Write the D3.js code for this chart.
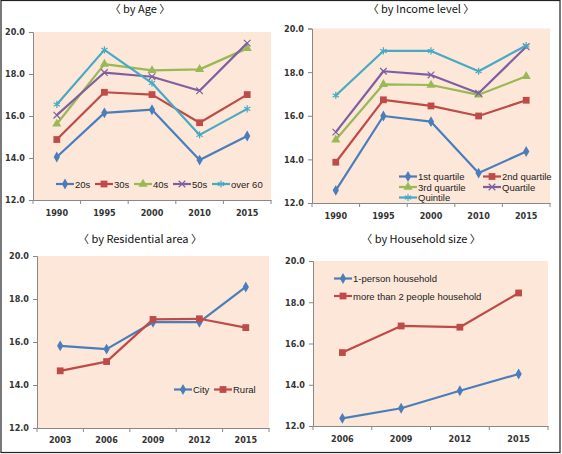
<!DOCTYPE html>
<html><head><meta charset="utf-8">
<script src="https://cdn.jsdelivr.net/npm/d3@7"></script>
<style>body{margin:0;background:#fff}svg{display:block}</style>
</head><body>
<script>
// ---- data ----
const yTicks = [12, 14, 16, 18, 20];

const ageYears = ["1990", "1995", "2000", "2010", "2015"];
const age20s   = [14.05, 16.15, 16.3, 13.9, 15.05];
const age30s   = [14.88, 17.13, 17.02, 15.68, 17.02];
const age40s   = [15.62, 18.47, 18.17, 18.22, 19.22];
const age50s   = [16.04, 18.07, 17.87, 17.2, 19.47];
const ageOver60 = [16.55, 19.15, 17.57, 15.1, 16.34];

const incYears = ["1990", "1995", "2000", "2010", "2015"];
const inc1st = [12.58, 15.99, 15.73, 13.37, 14.36];
const inc2nd = [13.87, 16.73, 16.45, 15.99, 16.71];
const inc3rd = [14.9, 17.44, 17.41, 16.96, 17.81];
const incQuartile = [15.25, 18.04, 17.87, 17.03, 19.16];
const incQuintile = [16.93, 18.97, 18.97, 18.04, 19.22];

const resYears = ["2003", "2006", "2009", "2012", "2015"];
const resCity  = [15.82, 15.67, 16.92, 16.92, 18.56];
const resRural = [14.66, 15.09, 17.05, 17.08, 16.67];

const hhYears = ["2006", "2009", "2012", "2015"];
const hh1     = [12.37, 12.86, 13.71, 14.52];
const hh2plus = [15.56, 16.85, 16.79, 18.45];

const COL = {blue:"#4A7EBB", red:"#BE4B48", green:"#98B954", purple:"#7D60A0", cyan:"#46AAC5"};
const MK = {diamond:d3.symbolDiamond, square:d3.symbolSquare, triangle:d3.symbolTriangle, x:d3.symbolX, asterisk:d3.symbolAsterisk};
const LEGF = "'Liberation Sans',Arial,sans-serif";
const AXISF = "'DejaVu Sans Condensed','DejaVu Sans',sans-serif";
const TITLEF = "'Noto Sans CJK KR','DejaVu Sans',sans-serif";

const panels = [
  {title:"〈 by Age 〉", tx:140, ty:13, x0:33, x1:271, yT:32, yB:200, labY:216, cats:ageYears,
   series:[
    {name:"20s", v:age20s, c:COL.blue, m:"diamond"},
    {name:"30s", v:age30s, c:COL.red, m:"square"},
    {name:"40s", v:age40s, c:COL.green, m:"triangle"},
    {name:"50s", v:age50s, c:COL.purple, m:"x"},
    {name:"over 60", v:ageOver60, c:COL.cyan, m:"asterisk"}],
   legend:[[56,184],[95,184],[134,184],[173,184],[212,184]]},
  {title:"〈 by Income level 〉", tx:421, ty:13, x0:312, x1:550, yT:28.5, yB:203, labY:219, cats:incYears,
   series:[
    {name:"1st quartile", v:inc1st, c:COL.blue, m:"diamond"},
    {name:"2nd quartile", v:inc2nd, c:COL.red, m:"square"},
    {name:"3rd quartile", v:inc3rd, c:COL.green, m:"triangle"},
    {name:"Quartile", v:incQuartile, c:COL.purple, m:"x"},
    {name:"Quintile", v:incQuintile, c:COL.cyan, m:"asterisk"}],
   legend:[[399,176.5],[483,176.5],[399,187],[483,187],[399,197.5]]},
  {title:"〈 by Residential area 〉", tx:140, ty:243, x0:37, x1:269, yT:256, yB:428, labY:443, cats:resYears,
   series:[
    {name:"City", v:resCity, c:COL.blue, m:"diamond"},
    {name:"Rural", v:resRural, c:COL.red, m:"square"}],
   legend:[[174,389.5],[214,389.5]]},
  {title:"〈 by Household size 〉", tx:421, ty:243, x0:313, x1:548, yT:261, yB:426, labY:441.5, cats:hhYears,
   series:[
    {name:"1-person household", v:hh1, c:COL.blue, m:"diamond"},
    {name:"more than 2 people household", v:hh2plus, c:COL.red, m:"square"}],
   legend:[[334,278.5],[334,296]]}
];

const svg = d3.select("body").append("svg").attr("width",562).attr("height",454);

svg.append("rect").attr("x",1).attr("y",0.5).attr("width",559).attr("height",452)
  .attr("fill","#fff").attr("stroke","#222").attr("stroke-width",1.2);

function marker(g, type, color, x, y){
  const sizes = {diamond:34, square:46, triangle:36, x:30, asterisk:36};
  const stroke = (type==="x"||type==="asterisk");
  g.append("path").attr("d", d3.symbol().type(MK[type]).size(sizes[type])())
    .attr("transform",`translate(${x},${y})`)
    .attr("fill", stroke?"none":color).attr("stroke", stroke?color:"none").attr("stroke-width",1.2);
}

panels.forEach(p=>{
  const g = svg.append("g");
  const x = d3.scaleBand().domain(p.cats).range([p.x0,p.x1]);
  const y = d3.scaleLinear().domain([12,20]).range([p.yB,p.yT]);

  g.append("rect").attr("x",p.x0).attr("y",p.yT).attr("width",p.x1-p.x0).attr("height",p.yB-p.yT).attr("fill","#FDE7D9");

  g.append("text").attr("x",p.tx).attr("y",p.ty).attr("text-anchor","middle")
    .style("font-family",TITLEF).style("font-size","11px").attr("fill","#111").text(p.title);

  // y axis
  const ya = g.append("g").attr("transform",`translate(${p.x0},0)`)
    .call(d3.axisLeft(y).tickValues(yTicks).tickFormat(d3.format(".1f")).tickSize(4).tickPadding(4));
  ya.select(".domain").attr("stroke","#888");
  ya.selectAll(".tick line").attr("stroke","#888");
  ya.selectAll("text").style("font-size","9px").style("font-family",AXISF).style("font-weight","bold").attr("fill","#333");

  // x axis
  const xa = g.append("g").attr("transform",`translate(0,${p.yB})`)
    .call(d3.axisBottom(x).tickSize(0).tickPadding(0));
  xa.select(".domain").attr("stroke","#888");
  xa.selectAll("text").style("font-size","9px").style("font-family",AXISF).style("font-weight","bold").attr("fill","#333")
    .attr("y", p.labY - p.yB).attr("dy","0");
  // category boundary ticks
  const bounds = p.cats.map(c=>x(c)).concat([p.x1]);
  g.selectAll(null).data(bounds).join("line")
    .attr("x1",d=>d).attr("x2",d=>d).attr("y1",p.yB).attr("y2",p.yB+4).attr("stroke","#888");

  const line = d3.line().x((d,i)=>x(p.cats[i])+x.bandwidth()/2).y(d=>y(d));
  p.series.forEach(s=>{
    g.append("path").attr("d",line(s.v)).attr("fill","none").attr("stroke",s.c).attr("stroke-width",2.2).attr("stroke-linejoin","round");
    s.v.forEach((v,i)=>marker(g,s.m,s.c,x(p.cats[i])+x.bandwidth()/2,y(v)));
  });

  // legend
  p.series.forEach((s,i)=>{
    const [lx,ly] = p.legend[i];
    g.append("line").attr("x1",lx).attr("x2",lx+18).attr("y1",ly).attr("y2",ly).attr("stroke",s.c).attr("stroke-width",2.2);
    marker(g,s.m,s.c,lx+9,ly);
    g.append("text").attr("x",lx+19).attr("y",ly+3.5)
      .style("font-size","9.5px").style("font-family",LEGF).attr("fill","#222").text(s.name);
  });
});
</script>
</body></html>
